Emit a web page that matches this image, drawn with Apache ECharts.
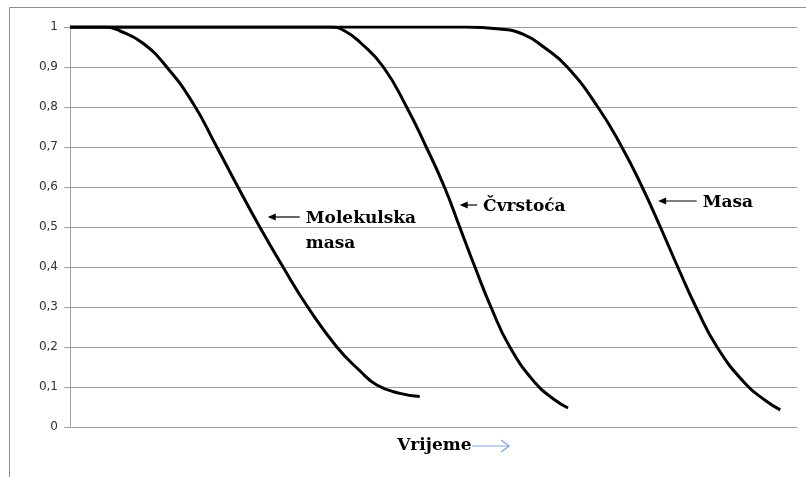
<!DOCTYPE html>
<html>
<head>
<meta charset="utf-8">
<script src="https://cdn.jsdelivr.net/npm/echarts@6/dist/echarts.min.js"></script>
<style>
  html, body { margin: 0; padding: 0; background: #fff; }
  #chart { width: 806px; height: 477px; }
</style>
</head>
<body>
<div id="chart"></div>
<script>
// time (arbitrary units, 0..100) and relative value
const molekulskaT = [0, 4.8, 6.9, 10.0, 13.3, 16.9, 19.9, 23.1, 26.1, 29.3, 32.7, 36.7, 39.9, 42.2, 45.4, 48.1];
const molekulskaV = [1, 1, 0.99, 0.96, 0.9, 0.81, 0.71, 0.6, 0.5, 0.4, 0.3, 0.2, 0.14, 0.105, 0.084, 0.076];
const cvrstocaT = [0, 35.8, 37.8, 40.0, 43.1, 46.3, 49.0, 51.5, 53.6, 55.7, 57.9, 60.5, 64.0, 66.5, 68.5];
const cvrstocaV = [1, 1, 0.99, 0.96, 0.9, 0.8, 0.7, 0.6, 0.5, 0.4, 0.3, 0.2, 0.11, 0.07, 0.0475];
const masaT = [0, 54.3, 59.1, 62.3, 65.3, 68.4, 72.6, 75.9, 78.7, 81.2, 83.6, 86.1, 89.0, 92.8, 95.6, 97.7];
const masaV = [1, 1, 0.995, 0.982, 0.948, 0.9, 0.8, 0.7, 0.6, 0.5, 0.4, 0.3, 0.2, 0.11, 0.067, 0.043];

// arrow annotations (data coords)
const annoText = ['Molekulska\nmasa', 'Čvrstoća', 'Masa'];
const annoHeadT = [27.2, 53.6, 80.9];
const annoTailT = [31.6, 56.0, 86.2];
const annoV = [0.525, 0.555, 0.565];

const xTitle = 'Vrijeme';

const zip = (xs, ys) => xs.map((x, i) => [x, ys[i]]);

const chart = echarts.init(document.getElementById('chart'));

function lineSeries(name, xs, ys) {
  return {
    name,
    type: 'line',
    data: zip(xs, ys),
    smooth: 0.5,
    symbol: 'none',
    silent: true,
    animation: false,
    lineStyle: { color: '#000', width: 3 }
  };
}

chart.setOption({
  animation: false,
  grid: { left: 70, top: 27, right: 9, bottom: 50 },
  xAxis: {
    type: 'value',
    min: 0,
    max: 100,
    axisLine: { show: true, lineStyle: { color: '#a0a0a0', width: 1 } },
    axisTick: { show: false },
    axisLabel: { show: false },
    splitLine: { show: false }
  },
  yAxis: {
    type: 'value',
    min: 0,
    max: 1,
    interval: 0.1,
    axisLine: { show: true, lineStyle: { color: '#a0a0a0', width: 1 } },
    axisTick: { show: true, length: 6, lineStyle: { color: '#a0a0a0' } },
    axisLabel: {
      color: '#333',
      fontFamily: 'DejaVu Sans',
      fontSize: 12,
      margin: 12,
      formatter: v => String(Math.round(v * 10) / 10).replace('.', ',')
    },
    splitLine: { show: true, lineStyle: { color: '#a0a0a0', width: 1 } }
  },
  series: [
    lineSeries('Molekulska masa', molekulskaT, molekulskaV),
    lineSeries('Čvrstoća', cvrstocaT, cvrstocaV),
    lineSeries('Masa', masaT, masaV)
  ]
});

// annotations placed from data coords
const graphics = [
  // outer frame (left and top edges)
  { type: 'polyline', shape: { points: [[9.5, 477], [9.5, 7.5], [806, 7.5]] },
    style: { stroke: '#8c8c8c', lineWidth: 1, fill: null }, silent: true }
];

annoText.forEach((txt, i) => {
  const head = chart.convertToPixel('grid', [annoHeadT[i], annoV[i]]);
  const tail = chart.convertToPixel('grid', [annoTailT[i], annoV[i]]);
  graphics.push({
    type: 'line',
    shape: { x1: head[0] + 6, y1: head[1], x2: tail[0], y2: tail[1] },
    style: { stroke: '#000', lineWidth: 1.2 },
    silent: true
  });
  graphics.push({
    type: 'polygon',
    shape: { points: [[head[0], head[1]], [head[0] + 8, head[1] - 3.5], [head[0] + 8, head[1] + 3.5]] },
    style: { fill: '#000' },
    silent: true
  });
  graphics.push({
    type: 'text',
    x: tail[0] + 6,
    y: head[1] - 11,
    style: {
      text: txt,
      fill: '#000',
      font: 'bold 17px "DejaVu Serif"',
      lineHeight: 25,
      textVerticalAlign: 'top'
    },
    silent: true
  });
});

// x axis title with blue arrow
const xt = chart.convertToPixel('grid', [45.0, 0]);
const ty = xt[1] + 19;
graphics.push({
  type: 'text',
  x: xt[0],
  y: ty,
  style: { text: xTitle, fill: '#000', font: 'bold 17px "DejaVu Serif"', textVerticalAlign: 'middle' },
  silent: true
});
graphics.push({
  type: 'polyline',
  shape: { points: [[xt[0] + 75, ty], [xt[0] + 112, ty]] },
  style: { stroke: '#7ca3d4', lineWidth: 1.2, fill: null },
  silent: true
});
graphics.push({
  type: 'polyline',
  shape: { points: [[xt[0] + 104, ty - 6], [xt[0] + 112, ty], [xt[0] + 104, ty + 6]] },
  style: { stroke: '#7ca3d4', lineWidth: 1.2, fill: null },
  silent: true
});

chart.setOption({ graphic: graphics });
</script>
</body>
</html>
